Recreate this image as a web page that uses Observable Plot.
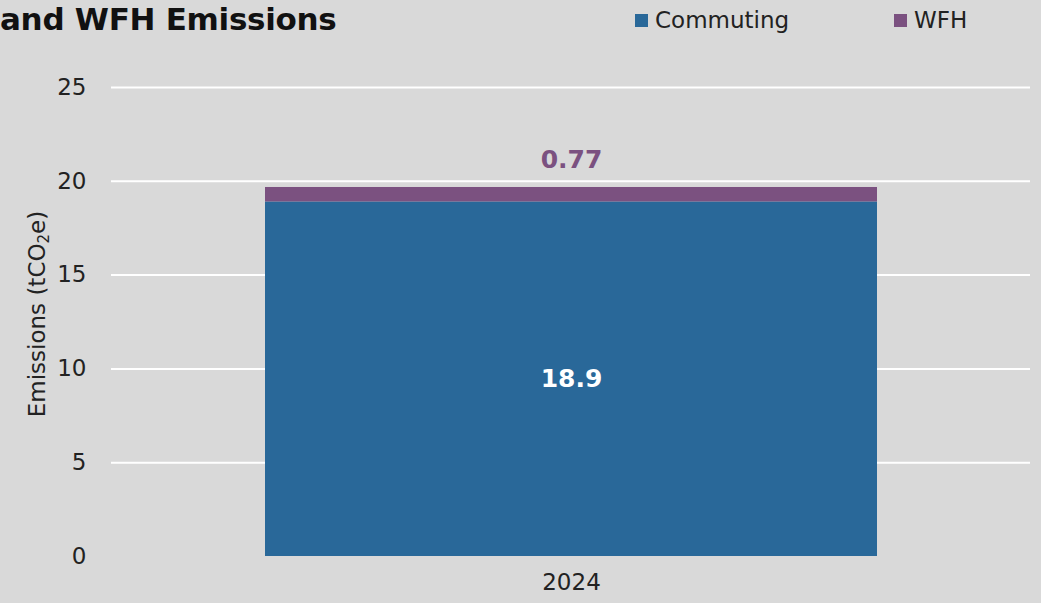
<!DOCTYPE html>
<html>
<head>
<meta charset="utf-8">
<script src="https://cdn.jsdelivr.net/npm/d3@7"></script>
<script src="https://cdn.jsdelivr.net/npm/@observablehq/plot@0.6"></script>
<style>
  html, body { margin: 0; padding: 0; background: #d9d9d9; }
  #wrap { position: relative; width: 1041px; height: 603px; overflow: hidden; background: #d9d9d9; font-family: "DejaVu Sans", sans-serif; }
  #header { position: relative; height: 50px; }
  #title { position: absolute; left: 0; top: 1px; font-weight: bold; font-size: 31px; color: #111; white-space: nowrap; letter-spacing: -0.3px; }
  .leg { position: absolute; top: 7px; font-size: 23px; color: #222; white-space: nowrap; display: flex; align-items: center; }
  .leg span.sw { display: inline-block; width: 13px; height: 13px; margin-right: 7px; }
  #ylabel { position: absolute; left: 37px; top: 314px; transform: translate(-50%, -50%) rotate(-90deg); font-size: 23px; color: #222; white-space: nowrap; }
  #ylabel sub { font-size: 15px; vertical-align: -4px; line-height: 0; }
  g[aria-label="x-axis"] text { font-family: "Liberation Sans", Arial, sans-serif; font-size: 23px; }
</style>
</head>
<body>
<div id="wrap">
  <div id="header">
    <div id="title">and WFH Emissions</div>
    <div id="legend"></div>
  </div>
  <div id="chart"></div>
  <div id="ylabel">Emissions (tCO<sub>2</sub>e)</div>
</div>
<script>
const years = ["2024"];
const seriesNames = ["Commuting", "WFH"];
const commuting = [18.9];
const wfh = [0.77];
const seriesColors = ["#296899", "#7b5180"];
const yTicks = [0, 5, 10, 15, 20, 25];
const legendX = [635, 894];

const data = years.flatMap((yr, i) => [
  { year: yr, series: seriesNames[0], value: commuting[i] },
  { year: yr, series: seriesNames[1], value: wfh[i] }
]);
const commLabels = years.map((yr, i) => ({ year: yr, v: commuting[i] }));
const wfhLabels = years.map((yr, i) => ({ year: yr, base: commuting[i], v: wfh[i] }));

const chart = Plot.plot({
  width: 1041,
  height: 553,
  marginTop: 37,
  marginBottom: 47,
  marginLeft: 111,
  marginRight: 11,
  style: { background: "transparent", fontFamily: "DejaVu Sans, sans-serif", fontSize: "23px", color: "#222" },
  x: { domain: years, padding: 0.2, label: null, tickSize: 0, tickPadding: 17 },
  y: { domain: [0, 25], ticks: yTicks, label: null, tickSize: 0, tickPadding: 25 },
  color: { domain: seriesNames, range: seriesColors },
  marks: [
    Plot.ruleY(yTicks.filter(d => d > 0), { stroke: "white", strokeWidth: 2 }),
    Plot.barY(data, Plot.stackY({ x: "year", y: "value", fill: "series", order: seriesNames })),
    Plot.text(commLabels, { x: "year", y: d => d.v / 2, text: d => d.v.toFixed(1), fill: "white", fontWeight: "bold", fontSize: 25 }),
    Plot.text(wfhLabels, { x: "year", y: d => d.base + d.v, text: d => d.v.toFixed(2), fill: seriesColors[1], fontWeight: "bold", fontSize: 25, dy: -27 })
  ]
});
document.getElementById("chart").appendChild(chart);

const legend = document.getElementById("legend");
seriesNames.forEach((name, i) => {
  const el = document.createElement("div");
  el.className = "leg";
  el.style.left = legendX[i] + "px";
  el.innerHTML = `<span class="sw" style="background:${seriesColors[i]}"></span>${name}`;
  legend.appendChild(el);
});
</script>
</body>
</html>
